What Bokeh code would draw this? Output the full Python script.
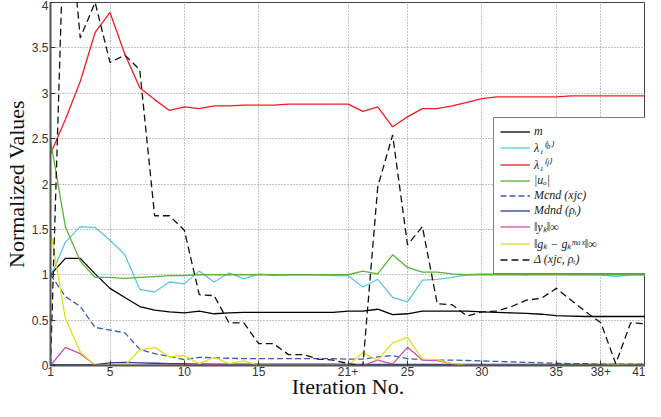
from bokeh.plotting import figure
from bokeh.models import Range1d, FixedTicker, Legend, LegendItem
from bokeh.embed import file_html
from bokeh.resources import INLINE

iterations = list(range(1, 42))
x_ticks = [1, 5, 10, 15, 21, 25, 30, 35, 38, 41]
x_tick_labels = ["1", "5", "10", "15", "21+", "25", "30", "35", "38+", "41"]
y_ticks = [0, 0.5, 1, 1.5, 2, 2.5, 3, 3.5, 4]

m_vals = [1.0, 1.18, 1.18, 1.01, 0.85, 0.75, 0.65, 0.61, 0.59, 0.58,
          0.60, 0.57, 0.58, 0.585, 0.585, 0.585, 0.585, 0.585, 0.585, 0.585,
          0.60, 0.60, 0.62, 0.56, 0.57, 0.60, 0.60, 0.60, 0.60, 0.59,
          0.585, 0.58, 0.575, 0.565, 0.55, 0.545, 0.54, 0.54, 0.54, 0.54, 0.54]
lambda_b = [0.97, 1.36, 1.53, 1.52, 1.38, 1.22, 0.84, 0.81, 0.92, 0.90,
            1.04, 0.92, 1.02, 0.955, 1.01, 0.99, 1.0, 1.0, 1.0, 0.99,
            0.99, 0.865, 0.95, 0.75, 0.70, 0.94, 0.95, 0.97, 1.0, 1.01,
            1.01, 1.01, 1.0, 1.03, 1.01, 1.0, 1.0, 1.0, 0.98, 1.0, 1.0]
lambda_f = [2.33, 2.71, 3.13, 3.67, 3.89, 3.43, 3.06, 2.93, 2.81, 2.85,
            2.83, 2.86, 2.86, 2.87, 2.87, 2.87, 2.88, 2.88, 2.88, 2.88,
            2.88, 2.80, 2.85, 2.63, 2.74, 2.83, 2.83, 2.86, 2.90, 2.94,
            2.96, 2.96, 2.96, 2.96, 2.96, 2.97, 2.97, 2.97, 2.97, 2.97, 2.97]
u_o = [2.48, 1.53, 1.15, 0.97, 0.97, 0.96, 0.97, 0.98, 0.99, 0.99,
       1.0, 1.0, 1.0, 1.0, 1.0, 1.0, 1.0, 1.0, 1.0, 1.0,
       1.0, 1.04, 1.01, 1.22, 1.08, 1.03, 1.03, 1.01, 1.0, 1.0,
       1.0, 1.0, 1.0, 1.0, 1.0, 1.0, 1.0, 1.0, 1.0, 1.0, 1.0]
m_cnd = [1.0, 0.76, 0.65, 0.42, 0.39, 0.36, 0.18, 0.13, 0.10, 0.065,
         0.09, 0.085, 0.08, 0.075, 0.075, 0.075, 0.075, 0.075, 0.075, 0.075,
         0.07, 0.07, 0.095, 0.11, 0.075, 0.065, 0.06, 0.06, 0.055, 0.05,
         0.045, 0.04, 0.035, 0.03, 0.025, 0.02, 0.02, 0.015, 0.015, 0.015, 0.015]
m_dnd = [0.01, 0.01, 0.01, 0.01, 0.03, 0.035, 0.03, 0.025, 0.02, 0.02,
         0.015, 0.015, 0.015, 0.015, 0.015, 0.015, 0.015, 0.015, 0.015, 0.015,
         0.012, 0.012, 0.012, 0.012, 0.012, 0.012, 0.012, 0.012, 0.012, 0.012,
         0.012, 0.012, 0.012, 0.012, 0.012, 0.012, 0.012, 0.012, 0.012, 0.012, 0.012]
y_inf = [0.0, 0.20, 0.13, 0.005, 0.005, 0.005, 0.005, 0.005, 0.005, 0.01,
         0.02, 0.01, 0.005, 0.005, 0.005, 0.005, 0.005, 0.005, 0.005, 0.005,
         0.005, 0.0, 0.06, 0.015, 0.20, 0.06, 0.055, 0.02, 0.0, 0.0,
         0.0, 0.0, 0.0, 0.0, 0.0, 0.0, 0.0, 0.0, 0.01, 0.0, 0.0]
g_inf = [1.49, 0.52, 0.15, 0.0, 0.0, 0.0, 0.17, 0.20, 0.095, 0.11,
         0.02, 0.09, 0.02, 0.05, 0.0, 0.0, 0.0, 0.0, 0.0, 0.0,
         0.0, 0.14, 0.06, 0.25, 0.31, 0.07, 0.065, 0.02, 0.0, 0.0,
         0.0, 0.0, 0.0, 0.0, 0.0, 0.0, 0.0, 0.0, 0.01, 0.0, 0.0]
delta = [0.0, 5.4, 3.61, 4.0, 3.34, 3.42, 3.26, 1.65, 1.65, 1.49,
         0.78, 0.77, 0.47, 0.47, 0.24, 0.24, 0.12, 0.12, 0.07, 0.06,
         0.02, 0.0, 1.97, 2.54, 1.33, 1.53, 0.68, 0.67, 0.545, 0.59,
         0.60, 0.65, 0.72, 0.74, 0.85, 0.72, 0.59, 0.47, 0.02, 0.47, 0.46]

series = [
    ("m", m_vals, "#000000", "solid"),
    ("λ₁⁽ᵇ⁾", lambda_b, "#5cc8dc", "solid"),
    ("λ₁⁽ᶠ⁾", lambda_f, "#ee1c24", "solid"),
    ("|uₒ|", u_o, "#5ab334", "solid"),
    ("Mcnd (xjc)", m_cnd, "#3a5cb8", "6 3"),
    ("Mdnd (ρᵢ)", m_dnd, "#1f3c9a", "solid"),
    ("‖yₖ‖∞", y_inf, "#d04cb0", "solid"),
    ("‖gₖ − gₖᵐᵃˣ‖∞", g_inf, "#e2e01c", "solid"),
    ("Δ (xjc, ρᵢ)", delta, "#111111", "7 4"),
]

p = figure(width=645, height=401, output_backend="svg", toolbar_location=None,
           x_range=Range1d(1, 41), y_range=Range1d(0, 4),
           min_border_left=40, min_border_right=0, min_border_top=2, min_border_bottom=30)
p.background_fill_color = "white"
p.border_fill_color = "white"
p.outline_line_color = "#444444"
p.outline_line_width = 1

items = []
for label, vals, color, dash in series:
    r = p.line(iterations, vals, line_color=color, line_width=1.3, line_dash=dash)
    items.append(LegendItem(label=label, renderers=[r]))

p.xaxis.ticker = FixedTicker(ticks=x_ticks)
p.xaxis.major_label_overrides = {t: l for t, l in zip(x_ticks, x_tick_labels)}
p.yaxis.ticker = FixedTicker(ticks=y_ticks)
p.yaxis.major_label_overrides = {0: "0", 1: "1", 2: "2", 3: "3", 4: "4"}

for ax in (p.xaxis[0], p.yaxis[0]):
    ax.axis_line_color = "#555555"
    ax.axis_line_width = 2
    ax.major_tick_in = 5
    ax.major_tick_out = 0
    ax.major_tick_line_color = "#333333"
    ax.minor_tick_line_color = None
    ax.major_label_text_font = "Liberation Sans"
    ax.major_label_text_font_size = "12px"
    ax.major_label_text_color = "#333333"
    ax.major_label_standoff = 2
    ax.axis_label_text_font = "Liberation Serif"
    ax.axis_label_text_font_size = "22px"
    ax.axis_label_text_font_style = "normal"
    ax.axis_label_text_color = "#111111"
    ax.axis_label_standoff = 0

p.xaxis.axis_label = "Iteration No."
p.yaxis.axis_label = "Normalized Values"
p.xaxis.axis_label_standoff = -5
p.xaxis.major_label_standoff = 1

for g in (p.xgrid[0], p.ygrid[0]):
    g.grid_line_color = "#888888"
    g.grid_line_dash = "1 2"
    g.grid_line_width = 1

legend = Legend(items=items, location=(443, 91))
legend.label_text_font = "Liberation Serif"
legend.label_text_font_style = "italic"
legend.label_text_font_size = "12px"
legend.label_text_color = "#222222"
legend.label_height = 15
legend.label_width = 118
legend.glyph_height = 15
legend.glyph_width = 30
legend.label_standoff = 4
legend.spacing = 0
legend.padding = 6
legend.margin = 0
legend.border_line_color = "#000000"
legend.border_line_width = 1.5
legend.background_fill_color = "white"
legend.background_fill_alpha = 1.0
p.add_layout(legend, "center")

open("out.html", "w").write(file_html(p, INLINE))
